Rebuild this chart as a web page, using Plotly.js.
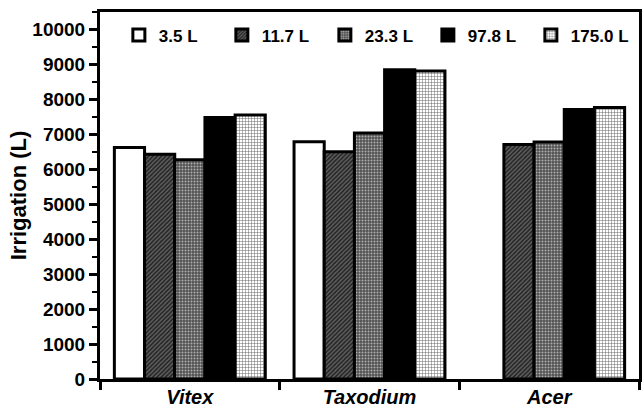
<!DOCTYPE html>
<html><head><meta charset="utf-8">
<script src="https://cdn.plot.ly/plotly-3.0.1.min.js"></script>
<style>body{margin:0;padding:0;background:#fff}#c{width:642px;height:408px}</style>
</head><body><div id="c"></div>
<script>
var categories = ["Vitex", "Taxodium", "Acer"];
var seriesNames = ["3.5 L", "11.7 L", "23.3 L", "97.8 L", "175.0 L"];
var v35 = [6620, 6790, null];
var v117 = [6430, 6500, 6710];
var v233 = [6270, 7040, 6780];
var v978 = [7480, 8850, 7710];
var v1750 = [7550, 8810, 7770];
var yTicks = [0,1000,2000,3000,4000,5000,6000,7000,8000,9000,10000];

var values = [v35, v117, v233, v978, v1750];
var styles = [
  {color:"#ffffff", pattern:{shape:""}},
  {color:"#333333", pattern:{shape:"/", fgcolor:"#6a6a6a", bgcolor:"#262626", size:3, solidity:0.4}},
  {color:"#777777", pattern:{shape:".", fgcolor:"#b0b0b0", bgcolor:"#505050", size:3, solidity:0.35}},
  {color:"#000000", pattern:{shape:""}},
  {color:"#dddddd", pattern:{shape:"+", fgcolor:"#666666", bgcolor:"#ffffff", size:3, solidity:0.3}}
];
var traces = seriesNames.map(function(n,i){
  return {
    type:"bar", name:n, x:categories, y:values[i],
    marker:{color:styles[i].color, pattern:styles[i].pattern, line:{color:"#000", width:3}},
    hoverinfo:"skip"
  };
});
var F = "Liberation Sans, Arial, sans-serif";
var layout = {
  width:642, height:408,
  margin:{l:100, r:3, t:12, b:29},
  paper_bgcolor:"#fff", plot_bgcolor:"#fff",
  barmode:"group", bargap:0.16, bargroupgap:0,
  showlegend:true,
  legend:{orientation:"h", x:0.035, y:0.985, xanchor:"left", yanchor:"top",
    font:{family:F, size:17, color:"#000", weight:"bold"}, bgcolor:"rgba(0,0,0,0)",
    entrywidth:58, traceorder:"normal"},
  xaxis:{
    type:"category", range:[-0.5,2.5], tickson:"boundaries",
    ticks:"outside", ticklen:8, tickwidth:3, tickcolor:"#000",
    showline:true, linewidth:3, linecolor:"#000", mirror:true,
    showgrid:false, zeroline:false, ticklabelstandoff:-2,
    tickvals:categories, ticktext:categories.map(function(c){return "<b><i>"+c+"</i></b>";}),
    tickfont:{family:F, size:20, color:"#000"}
  },
  yaxis:{
    range:[0,10500], tickvals:yTicks, ticktext:yTicks.map(function(t){return "<b>"+t+"</b>";}),
    ticks:"outside", ticklen:8, tickwidth:3, tickcolor:"#000",
    minor:{dtick:500, ticks:"outside", ticklen:5, tickwidth:2, tickcolor:"#000", showgrid:false},
    showline:true, linewidth:3, linecolor:"#000", mirror:true,
    showgrid:false, zeroline:false,
    tickfont:{family:F, size:19, color:"#000"},
    title:{text:"<b>Irrigation (L)</b>", font:{family:F, size:22, color:"#000"}, standoff:0}
  }
};
Plotly.newPlot("c", traces, layout, {displayModeBar:false, staticPlot:true});
</script></body></html>
